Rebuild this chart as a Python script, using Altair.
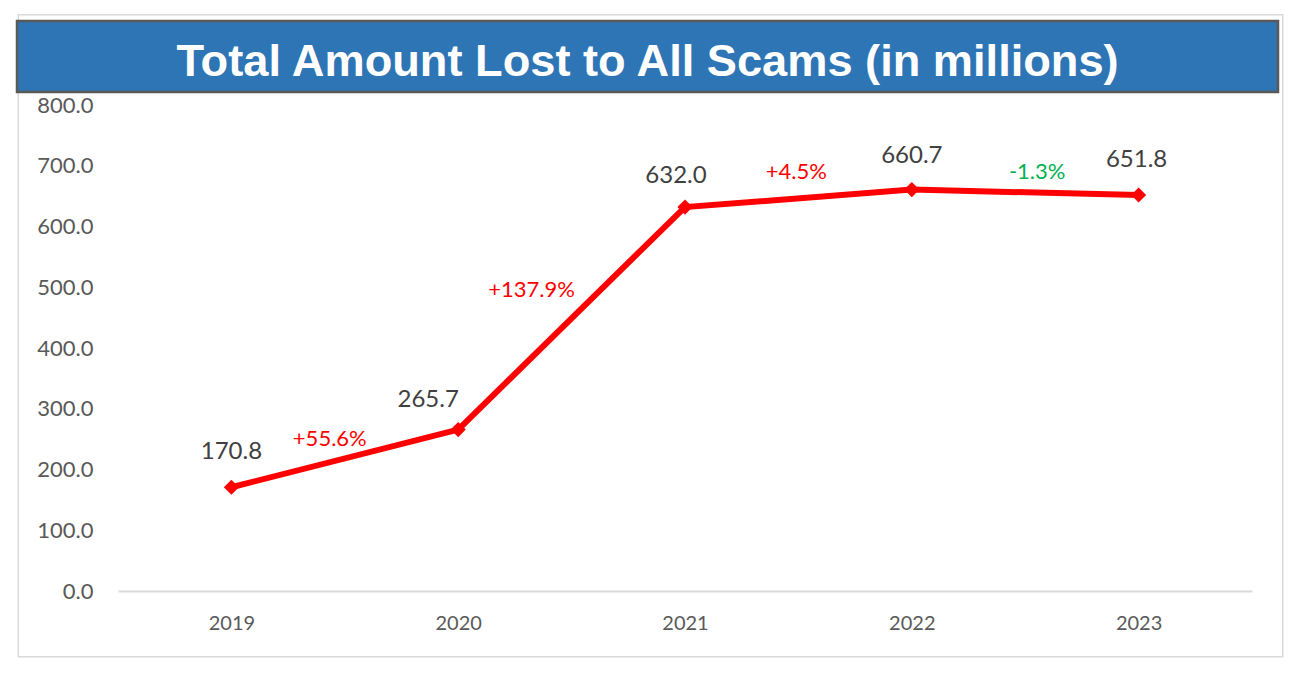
import altair as alt
import pandas as pd

years = ["2019", "2020", "2021", "2022", "2023"]
amounts = [170.8, 265.7, 632.0, 660.7, 651.8]
y_ticks = [0, 100, 200, 300, 400, 500, 600, 700, 800]
title_text = "Total Amount Lost to All Scams (in millions)"

# label offsets (pixels) - style only
value_dx = [0, -30, -9, 0, -2]
value_dy = [-35, -30, -31, -34, -35]
pct_dx = [-15, -40, -2, 12]
pct_dy = [-19, -28, -26, -20]

df = pd.DataFrame({"idx": list(range(len(years))), "year": years, "amount": amounts})

W, H = 1134, 486
FONT = "Lato"

x_enc = alt.X(
    "idx:Q",
    scale=alt.Scale(domain=[-0.5, len(years) - 0.5], nice=False, zero=False),
    axis=alt.Axis(
        values=list(range(len(years))),
        labelExpr="[" + ",".join(f"'{y}'" for y in years) + "][datum.value]",
        title=None, grid=False, ticks=False,
        domainColor="#d9d9d9", domainWidth=2,
        labelFont=FONT, labelFontSize=20, labelColor="#595959",
        labelPadding=22,
    ),
)
y_enc = alt.Y(
    "amount:Q",
    scale=alt.Scale(domain=[0, 800], nice=False),
    axis=alt.Axis(
        values=y_ticks, format=".1f", title=None, grid=False, ticks=False,
        domain=False, labelFont=FONT, labelFontSize=22, labelColor="#595959",
        labelPadding=25,
    ),
)

one = alt.Data(values=[{"a": 1}])

border = alt.Chart(one).mark_rect(fillOpacity=0, stroke="#d9d9d9", strokeWidth=1.5).encode(
    x=alt.value(-99.7), x2=alt.value(1164.7), y=alt.value(-90.3), y2=alt.value(551.7)
)
banner = alt.Chart(one).mark_rect(fill="#2E75B6", stroke="#595959", strokeWidth=2.5).encode(
    x=alt.value(-101), x2=alt.value(1160), y=alt.value(-84), y2=alt.value(-13)
)
title = alt.Chart(one).mark_text(
    text=title_text, font="Liberation Sans", fontWeight="bold", fontSize=45.2,
    color="white", align="center", baseline="alphabetic",
).encode(x=alt.value(529.5), y=alt.value(-29))

base = alt.Chart(df)
line = base.mark_line(color="#FF0000", strokeWidth=6).encode(x=x_enc, y=y_enc)
pts = base.mark_point(shape="diamond", filled=True, size=230, color="#FF0000", opacity=1).encode(
    x=x_enc, y=y_enc
)

layers = [border, banner, title, line, pts]

for i in range(len(years)):
    sub = df.iloc[[i]]
    layers.append(
        alt.Chart(sub).mark_text(
            font=FONT, fontSize=24, color="#404040", align="center", baseline="middle",
            dx=value_dx[i], dy=value_dy[i],
        ).encode(x=x_enc, y=y_enc, text=alt.Text("amount:Q", format=".1f"))
    )

for i in range(len(years) - 1):
    pct = (amounts[i + 1] / amounts[i] - 1) * 100
    label = f"{pct:+.1f}%"
    pdf = pd.DataFrame({"idx": [i + 0.5], "amount": [(amounts[i] + amounts[i + 1]) / 2], "label": [label]})
    layers.append(
        alt.Chart(pdf).mark_text(
            font=FONT, fontSize=22, color="#FF0000" if pct >= 0 else "#00B050",
            align="center", baseline="middle", dx=pct_dx[i], dy=pct_dy[i],
        ).encode(x=x_enc, y=y_enc, text="label:N")
    )

chart = alt.layer(*layers).properties(
    width=W, height=H,
    padding={"left": 118, "top": 105, "right": 43, "bottom": 89},
    autosize=alt.AutoSizeParams(type="none"),
    background="white",
).configure_view(strokeWidth=0)

chart.save("out.html", embed_options={"renderer": "svg", "actions": False})
